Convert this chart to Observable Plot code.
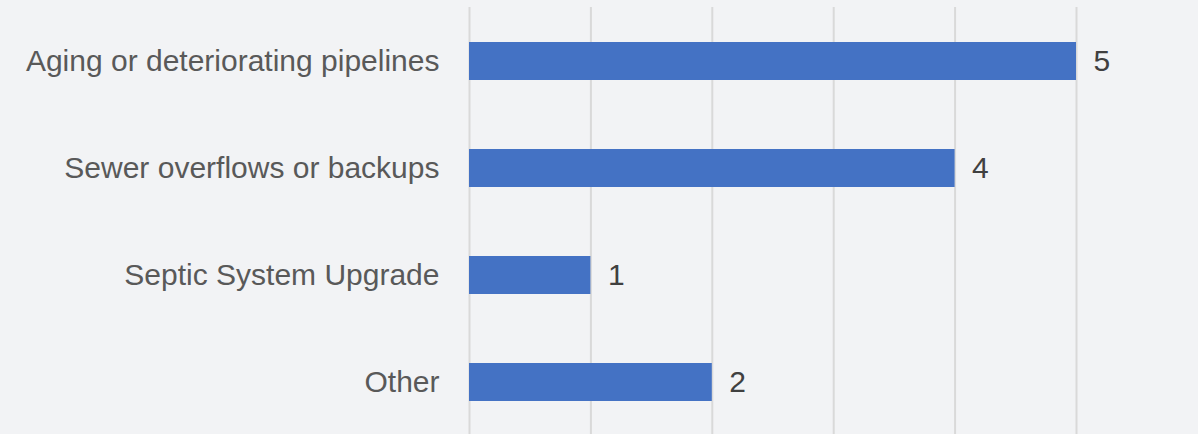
<!DOCTYPE html>
<html>
<head>
<meta charset="utf-8">
<script src="https://cdn.jsdelivr.net/npm/d3@7"></script>
<script src="https://cdn.jsdelivr.net/npm/@observablehq/plot@0.6"></script>
<style>
  html, body { margin: 0; padding: 0; background: #f2f3f5; }
  svg { display: block; }
</style>
</head>
<body>
<div id="chart"></div>
<script>
const categories = ["Aging or deteriorating pipelines", "Sewer overflows or backups", "Septic System Upgrade", "Other"];
const values = [5, 4, 1, 2];
const xTicks = [0, 1, 2, 3, 4, 5];

const data = categories.map((c, i) => ({category: c, value: values[i]}));

const chart = Plot.plot({
  width: 1198,
  height: 434,
  marginTop: 7,
  marginBottom: 0,
  marginLeft: 469,
  marginRight: 122,
  style: {background: "#f2f3f5", fontFamily: "'Liberation Sans', Arial, sans-serif", fontSize: "30px"},
  x: {domain: [0, 5], axis: null},
  y: {domain: categories, range: [7, 435], paddingInner: 0.645, paddingOuter: 0.32, axis: null},
  marks: [
    Plot.ruleX(xTicks, {stroke: "#d9d9d9", strokeWidth: 2}),
    Plot.barX(data, {x: "value", y: "category", fill: "#4472c4"}),
    Plot.text(data, {x: 0, y: "category", text: "category", textAnchor: "end", dx: -30, fill: "#595959", fontSize: 30}),
    Plot.text(data, {x: "value", y: "category", text: d => String(d.value), textAnchor: "start", dx: 17, fill: "#404040", fontSize: 30})
  ]
});
document.getElementById("chart").appendChild(chart);
</script>
</body>
</html>
